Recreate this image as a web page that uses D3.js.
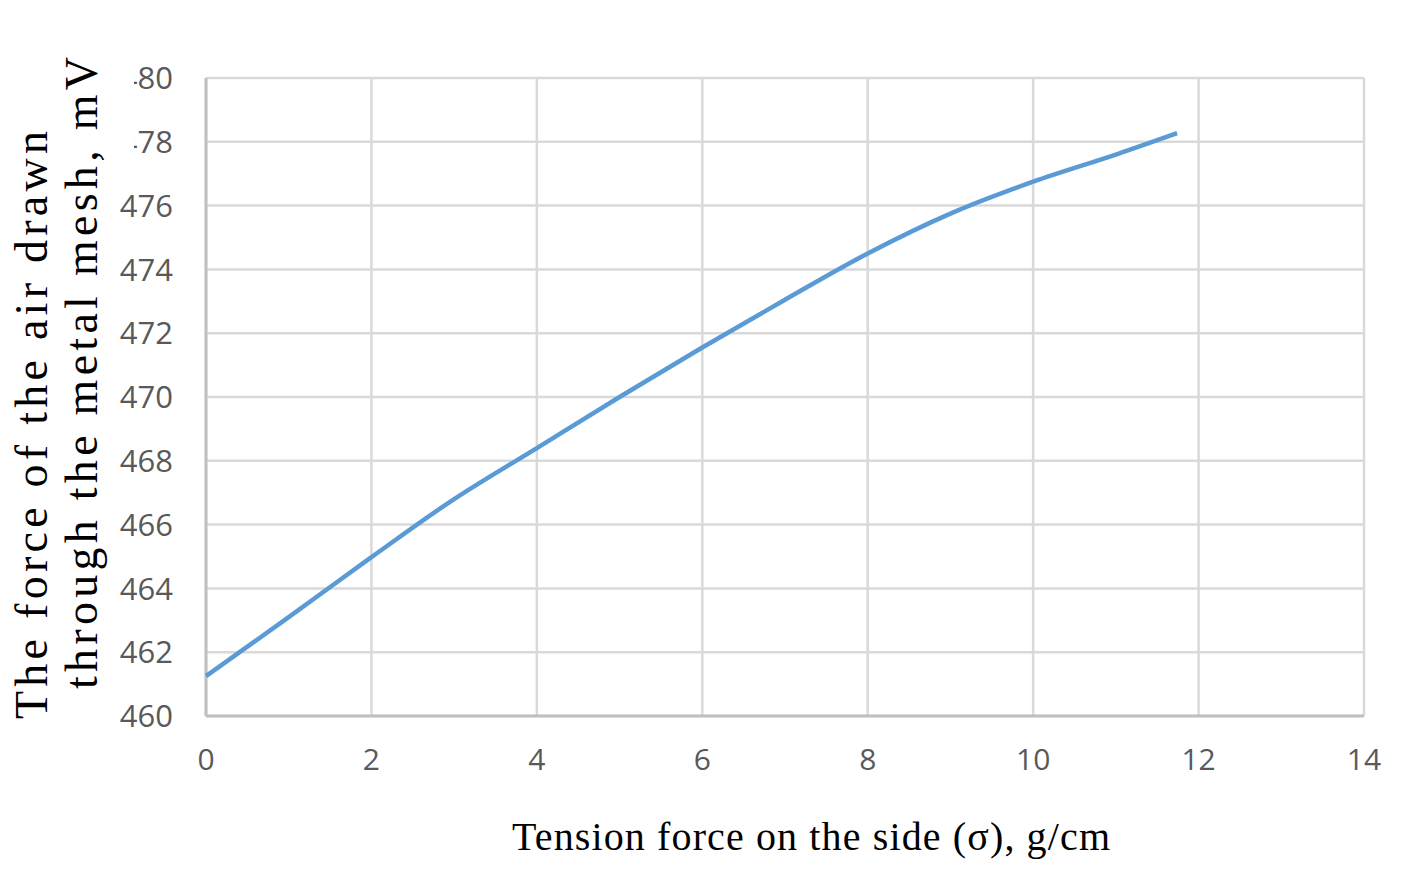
<!DOCTYPE html>
<html lang="en">
	<head>
		<meta charset="utf-8">
		<title>Tension force vs air force</title>
		<script type="text/javascript" src="https://cdn.jsdelivr.net/npm/d3@7/dist/d3.min.js"></script>
		<style type="text/css">
			body { margin: 0; background: #fff; }
		</style>
	</head>
	<body>
		<script type="text/javascript">

			//Data
			var tension = [0, 1, 2, 3, 4, 5, 6, 7, 8, 9, 10, 11, 11.74];
			var force = [461.25, 463.1, 464.98, 466.8, 468.4, 470.0, 471.55, 473.05, 474.5, 475.75, 476.75, 477.6, 478.27];
			var xTicks = [0, 2, 4, 6, 8, 10, 12, 14];
			var yTicks = [460, 462, 464, 466, 468, 470, 472, 474, 476, 478, 480];

			//Width and height
			var w = 1417;
			var h = 893;
			var plotLeft = 206, plotRight = 1364, plotTop = 78, plotBottom = 716;

			var svg = d3.select("body")
						.append("svg")
						.attr("width", w)
						.attr("height", h);

			var x = d3.scaleLinear().domain([0, 14]).range([plotLeft, plotRight]);
			var y = d3.scaleLinear().domain([460, 480]).range([plotBottom, plotTop]);

			//gridlines
			svg.selectAll("line.vgrid")
			   .data(xTicks)
			   .enter()
			   .append("line")
			   .attr("x1", function(d) { return x(d); })
			   .attr("x2", function(d) { return x(d); })
			   .attr("y1", plotTop)
			   .attr("y2", plotBottom)
			   .attr("stroke", "#d9d9d9")
			   .attr("stroke-width", 2.5);

			svg.selectAll("line.hgrid")
			   .data(yTicks)
			   .enter()
			   .append("line")
			   .attr("x1", plotLeft)
			   .attr("x2", plotRight)
			   .attr("y1", function(d) { return y(d); })
			   .attr("y2", function(d) { return y(d); })
			   .attr("stroke", "#d9d9d9")
			   .attr("stroke-width", 2.5);

			//axis lines
			svg.append("line")
			   .attr("x1", plotLeft).attr("x2", plotLeft)
			   .attr("y1", plotTop).attr("y2", plotBottom)
			   .attr("stroke", "#bfbfbf").attr("stroke-width", 3);
			svg.append("line")
			   .attr("x1", plotLeft).attr("x2", plotRight)
			   .attr("y1", plotBottom).attr("y2", plotBottom)
			   .attr("stroke", "#bfbfbf").attr("stroke-width", 3);

			//tick labels
			svg.selectAll("text.xt")
			   .data(xTicks)
			   .enter()
			   .append("text")
			   .attr("x", function(d) { return x(d); })
			   .attr("y", 770)
			   .attr("text-anchor", "middle")
			   .style("font-family", "'Open Sans', sans-serif")
			   .style("font-size", "30px")
			   .style("fill", "#595959")
			   .text(function(d) { return d; });

			svg.selectAll("text.yt")
			   .data(yTicks)
			   .enter()
			   .append("text")
			   .attr("x", 173)
			   .attr("y", function(d) { return y(d); })
			   .attr("dy", "0.36em")
			   .attr("text-anchor", "end")
			   .style("font-family", "'Open Sans', sans-serif")
			   .style("font-size", "31px")
			   .style("fill", "#595959")
			   .text(function(d) { return d; });

			//the curve
			var line = d3.line()
						 .x(function(d, i) { return x(tension[i]); })
						 .y(function(d) { return y(d); })
						 .curve(d3.curveCatmullRom);

			svg.append("path")
			   .datum(force)
			   .attr("d", line)
			   .attr("fill", "none")
			   .attr("stroke", "#5b9bd5")
			   .attr("stroke-width", 4.5);

			//white box under the y title, it hides the first digit of the top labels
			svg.append("rect")
			   .attr("x", 0).attr("y", 50)
			   .attr("width", 134).attr("height", 105)
			   .attr("fill", "#fff");

			//axis titles
			var serif = "'Liberation Serif', 'Times New Roman', serif";
			svg.append("text")
			   .attr("transform", "translate(47,425) rotate(-90)")
			   .attr("text-anchor", "middle")
			   .attr("textLength", 588)
			   .attr("lengthAdjust", "spacing")
			   .style("font-family", serif)
			   .style("font-size", "46px")
			   .style("fill", "#000")
			   .text("The force of the air drawn");

			svg.append("text")
			   .attr("transform", "translate(97,373) rotate(-90)")
			   .attr("text-anchor", "middle")
			   .attr("textLength", 632)
			   .attr("lengthAdjust", "spacing")
			   .style("font-family", serif)
			   .style("font-size", "46px")
			   .style("fill", "#000")
			   .text("through the metal mesh, mV");

			svg.append("text")
			   .attr("x", 811)
			   .attr("y", 850)
			   .attr("text-anchor", "middle")
			   .attr("textLength", 598)
			   .attr("lengthAdjust", "spacing")
			   .style("font-family", serif)
			   .style("font-size", "40px")
			   .style("fill", "#000")
			   .text("Tension force on the side (σ), g/cm");

		</script>
	</body>
</html>
